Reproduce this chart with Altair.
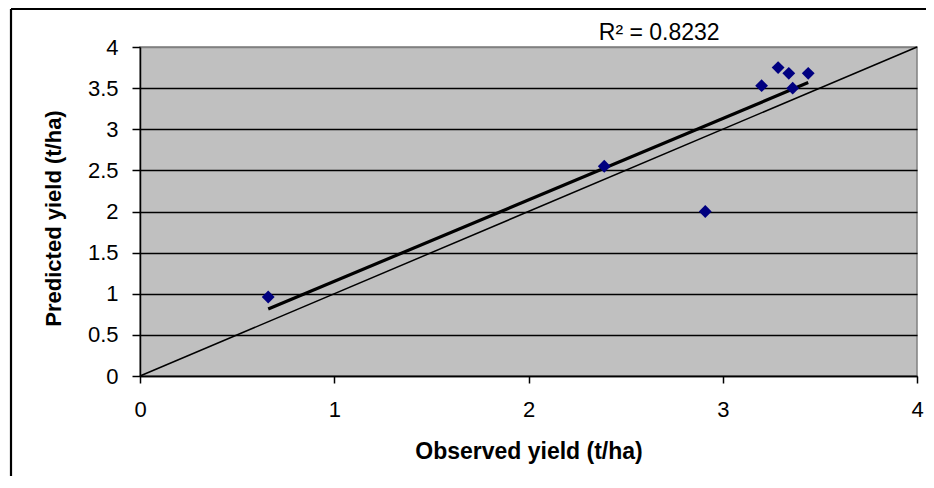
import altair as alt
import pandas as pd

# Data
observed = [0.66, 2.39, 2.91, 3.20, 3.285, 3.34, 3.44, 3.36]
predicted = [0.96, 2.55, 2.00, 3.53, 3.75, 3.68, 3.68, 3.50]

one_to_one_x = [0, 4]
one_to_one_y = [0, 4]

r2_label = "R\u00b2 = 0.8232"
r2_pos_x = [2.673]
r2_pos_y = [4.085]

x_ticks = [0, 1, 2, 3, 4]
y_ticks = [0, 0.5, 1, 1.5, 2, 2.5, 3, 3.5, 4]

FONT = "Liberation Sans, Arial, Helvetica, sans-serif"
W, H = 777, 329
PAD = {"left": 132, "top": 39, "right": 9, "bottom": 100}

pts = pd.DataFrame({"obs": observed, "pred": predicted})
diag = pd.DataFrame({"obs": one_to_one_x, "pred": one_to_one_y})
lab = pd.DataFrame({"obs": r2_pos_x, "pred": r2_pos_y, "t": [r2_label]})

xscale = alt.Scale(domain=[0, 4], nice=False, zero=False)
yscale = alt.Scale(domain=[0, 4], nice=False, zero=False)

xaxis = alt.Axis(
    values=x_ticks, grid=False, title="Observed yield (t/ha)", format="~g",
    labelFont=FONT, labelFontSize=22, labelColor="black", labelPadding=16,
    labelFlush=False, labelOverlap=False, labelBound=False,
    tickColor="black", tickSize=7, tickWidth=1.5,
    domainColor="black", domainWidth=1.5,
    titleFont=FONT, titleFontSize=23, titleFontWeight="bold", titleColor="black",
    titleX=W / 2, titleY=64, titleAlign="center", titleBaseline="top",
)
yaxis = alt.Axis(
    values=y_ticks, grid=True, title="Predicted yield (t/ha)", format="~g",
    gridColor=alt.condition("datum.value === 4", alt.value("#808080"), alt.value("black")),
    gridWidth=1.5,
    labelFont=FONT, labelFontSize=22, labelColor="black", labelPadding=14,
    labelFlush=False, labelOverlap=False,
    tickColor="black", tickSize=8, tickWidth=1.5,
    domainColor="black", domainWidth=1.5,
    titleFont=FONT, titleFontSize=22, titleFontWeight="bold", titleColor="black",
    titleX=-87, titleY=171, titleAngle=270, titleAlign="center", titleBaseline="middle",
)

base = alt.Chart(pts)

points = base.mark_point(shape="diamond", filled=True, size=165, color="#000080", opacity=1).encode(
    x=alt.X("obs:Q", scale=xscale, axis=xaxis),
    y=alt.Y("pred:Q", scale=yscale, axis=yaxis),
)

trend = base.transform_regression("obs", "pred", method="linear").mark_line(
    color="black", strokeWidth=3.2
).encode(x=alt.X("obs:Q", scale=xscale), y=alt.Y("pred:Q", scale=yscale))

diagonal = alt.Chart(diag).mark_line(color="black", strokeWidth=1.5).encode(
    x=alt.X("obs:Q", scale=xscale), y=alt.Y("pred:Q", scale=yscale)
)

r2 = alt.Chart(lab).mark_text(
    font=FONT, fontSize=23, color="black", align="center", baseline="alphabetic", clip=False
).encode(x=alt.X("obs:Q", scale=xscale), y=alt.Y("pred:Q", scale=yscale), text="t:N")

# Outer chart frame (top and left edges visible in the reference)
frame_top = alt.Chart(lab).mark_rule(color="black", strokeWidth=2.2).encode(
    x=alt.value(-129), x2=alt.value(W + PAD["right"]), y=alt.value(-38)
)
frame_left = alt.Chart(lab).mark_rule(color="black", strokeWidth=2.2).encode(
    x=alt.value(-129), y=alt.value(-38), y2=alt.value(H + PAD["bottom"])
)

chart = alt.layer(diagonal, trend, points, r2, frame_top, frame_left).properties(
    width=W, height=H,
    autosize=alt.AutoSizeParams(type="none"),
    padding=PAD,
    background="white",
).configure_view(
    fill="#C0C0C0", stroke="#808080", strokeWidth=1.5
)

chart.save("out.html", embed_options={"renderer": "svg", "actions": False})
